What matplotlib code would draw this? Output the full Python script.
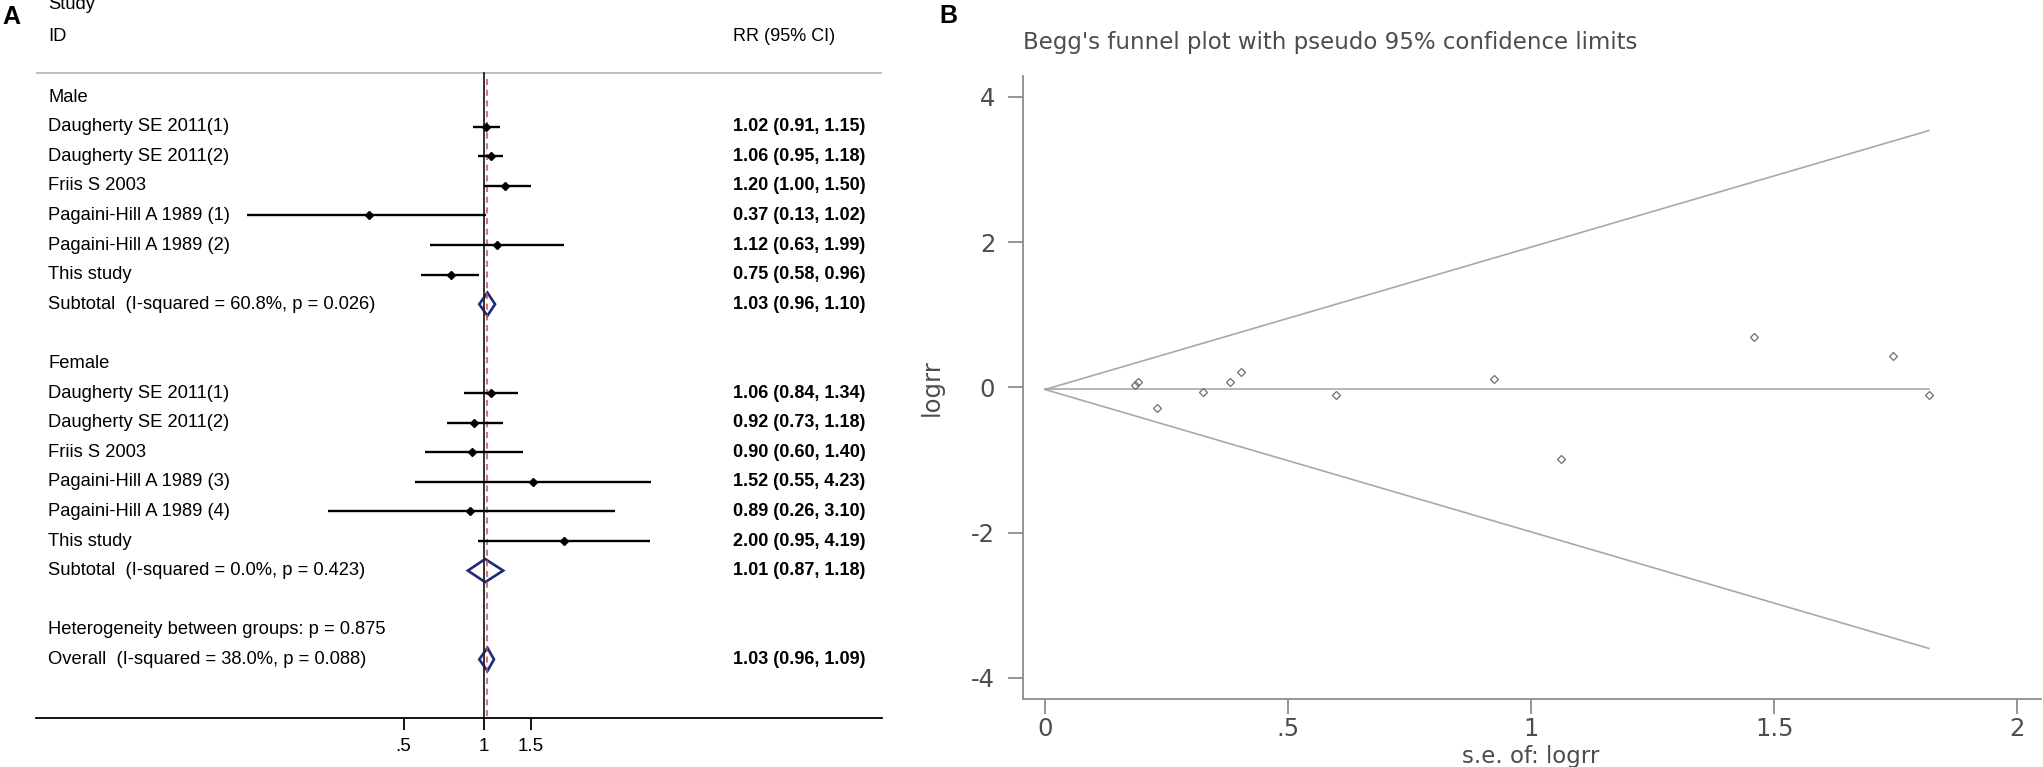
import numpy as np
import matplotlib.pyplot as plt
from matplotlib import font_manager
from matplotlib.patches import Polygon
from matplotlib.ticker import NullLocator
from matplotlib.transforms import blended_transform_factory

# ---- panel A: forest plot data ----
male_names = ['Daugherty SE 2011(1)', 'Daugherty SE 2011(2)', 'Friis S 2003',
              'Pagaini-Hill A 1989 (1)', 'Pagaini-Hill A 1989 (2)', 'This study']
male_rr = [1.02, 1.06, 1.20, 0.37, 1.12, 0.75]
male_lo = [0.91, 0.95, 1.00, 0.13, 0.63, 0.58]
male_hi = [1.15, 1.18, 1.50, 1.02, 1.99, 0.96]
male_sub = (1.03, 0.96, 1.10)
male_sub_label = 'Subtotal  (I-squared = 60.8%, p = 0.026)'

female_names = ['Daugherty SE 2011(1)', 'Daugherty SE 2011(2)', 'Friis S 2003',
                'Pagaini-Hill A 1989 (3)', 'Pagaini-Hill A 1989 (4)', 'This study']
female_rr = [1.06, 0.92, 0.90, 1.52, 0.89, 2.00]
female_lo = [0.84, 0.73, 0.60, 0.55, 0.26, 0.95]
female_hi = [1.34, 1.18, 1.40, 4.23, 3.10, 4.19]
female_sub = (1.01, 0.87, 1.18)
female_sub_label = 'Subtotal  (I-squared = 0.0%, p = 0.423)'

het_label = 'Heterogeneity between groups: p = 0.875'
overall = (1.03, 0.96, 1.09)
overall_label = 'Overall  (I-squared = 38.0%, p = 0.088)'

rr_ticks = [0.5, 1, 1.5]
rr_ticklabels = ['.5', '1', '1.5']

# ---- panel B: Begg's funnel plot data ----
se_vals = [0.185, 0.192, 0.231, 0.324, 0.381, 0.404, 0.598, 0.923, 1.061, 1.459, 1.745, 1.818]
logrr_vals = [0.03, 0.076, -0.282, -0.07, 0.076, 0.205, -0.10, 0.12, -0.99, 0.69, 0.43, -0.11]
pooled_logrr = -0.03
se_ticks = [0, 0.5, 1, 1.5, 2]
se_ticklabels = ['0', '.5', '1', '1.5', '2']
lr_ticks = [-4, -2, 0, 2, 4]
lr_ticklabels = ['-4', '-2', '0', '2', '4']

W, H = 2043, 767
fig = plt.figure(figsize=(W / 100, H / 100), dpi=100)

# fuente angosta para el panel A si existe
names = {f.name for f in font_manager.fontManager.ttflist}
if 'Liberation Sans Narrow' in names:
    lfont, lsize = 'Liberation Sans Narrow', 15.5
else:
    lfont, lsize = 'Liberation Sans', 13.2

# ======== panel A ========
ax = fig.add_axes([36 / W, 1 - 718 / H, (882 - 36) / W, 718 / H])
ax.set_xscale('log')
ax.set_xlim(np.exp((36 - 484) / 116), np.exp((882 - 484) / 116))
ax.set_ylim((718 - 97) / 29.6, (0 - 97) / 29.6)

rows = [('Male', 'head', None)]
for n, r, l, h in zip(male_names, male_rr, male_lo, male_hi):
    rows.append((n, 'study', (r, l, h)))
rows.append((male_sub_label, 'sub', male_sub))
rows.append(('', 'blank', None))
rows.append(('Female', 'head', None))
for n, r, l, h in zip(female_names, female_rr, female_lo, female_hi):
    rows.append((n, 'study', (r, l, h)))
rows.append((female_sub_label, 'sub', female_sub))
rows.append(('', 'blank', None))
rows.append((het_label, 'head', None))
rows.append((overall_label, 'sub', overall))

tr = blended_transform_factory(ax.transAxes, ax.transData)
lab_x = (48 - 36) / (882 - 36)
val_x = (733 - 36) / (882 - 36)
top_r = -0.81
bot_r = (718 - 97) / 29.6

ax.axhline(top_r, color='#b4b4b4', lw=1.2)
ax.plot([1, 1], [top_r, bot_r], color='#222222', lw=1.3)
ax.plot([overall[0], overall[0]], [top_r + 0.2, bot_r], color='#c94a57', lw=1.1, dashes=(4, 3))

ax.text(lab_x, -3.12, 'Study', transform=tr, ha='left', va='center', fontsize=lsize, family=lfont)
ax.text(lab_x, -2.03, 'ID', transform=tr, ha='left', va='center', fontsize=lsize, family=lfont)
ax.text(val_x, -2.03, 'RR (95% CI)', transform=tr, ha='left', va='center', fontsize=13, family='Liberation Sans')

for i, (lab, kind, v) in enumerate(rows):
    if lab:
        ax.text(lab_x, i, lab, transform=tr, ha='left', va='center', fontsize=lsize, family=lfont)
    if v is None:
        continue
    r, l, h = v
    if kind == 'study':
        ax.plot([l, h], [i, i], color='black', lw=1.7, solid_capstyle='butt')
        ax.plot(r, i, marker='D', ms=3.8, color='black')
    else:
        d = Polygon([(l, i), (r, i - 0.39), (h, i), (r, i + 0.39)], closed=True,
                    fill=False, ec='#1f2a7a', lw=1.9)
        ax.add_patch(d)
    ax.text(val_x, i, f'{r:.2f} ({l:.2f}, {h:.2f})', transform=tr, ha='left', va='center',
            fontsize=13, fontweight='bold', family='Liberation Sans')

for s in ['left', 'right', 'top']:
    ax.spines[s].set_visible(False)
ax.spines['bottom'].set_color('black')
ax.spines['bottom'].set_linewidth(1.3)
ax.set_yticks([])
ax.set_xticks(rr_ticks)
ax.set_xticklabels(rr_ticklabels, family='Liberation Sans')
ax.xaxis.set_minor_locator(NullLocator())
ax.tick_params(axis='x', length=8.6, width=1.3, color='black', labelsize=13.5, pad=6)

fig.text(2 / W, 1 - 17 / H, 'A', fontsize=18, fontweight='bold', family='Liberation Sans',
         ha='left', va='center')

# ======== panel B ========
gray_txt = '#4d4d4d'
ax2 = fig.add_axes([1022.7 / W, 1 - 699 / H, (2041 - 1022.7) / W, (699 - 76) / H])
ax2.set_xlim(-0.046, 2.049)
ax2.set_ylim(-4.29, 4.285)

se_max = max(se_vals)
ax2.plot([0, se_max], [pooled_logrr, pooled_logrr + 1.96 * se_max], color='#a8a8a8', lw=1.2)
ax2.plot([0, se_max], [pooled_logrr, pooled_logrr - 1.96 * se_max], color='#a8a8a8', lw=1.2)
ax2.plot([0, se_max], [pooled_logrr, pooled_logrr], color='#a8a8a8', lw=1.2)
ax2.plot(se_vals, logrr_vals, ls='none', marker='D', ms=4.5, mfc='none', mec='#6e6e6e', mew=0.9)

for s in ['right', 'top']:
    ax2.spines[s].set_visible(False)
for s in ['left', 'bottom']:
    ax2.spines[s].set_color('#8c8c8c')
    ax2.spines[s].set_linewidth(1.3)
ax2.set_xticks(se_ticks)
ax2.set_xticklabels(se_ticklabels)
ax2.set_yticks(lr_ticks)
ax2.set_yticklabels(lr_ticklabels)
ax2.tick_params(axis='both', length=10.8, width=1.3, color='#8c8c8c', labelcolor=gray_txt, labelsize=17.5)
ax2.tick_params(axis='x', pad=2)
ax2.tick_params(axis='y', pad=9)

fig.text(939 / W, 1 - 16 / H, 'B', fontsize=18, fontweight='bold', family='Liberation Sans',
         ha='left', va='center')
fig.text(1023 / W, 1 - 42 / H, "Begg's funnel plot with pseudo 95% confidence limits",
         fontsize=16.5, color=gray_txt, ha='left', va='center')
fig.text(932 / W, 1 - 387.5 / H, 'logrr', rotation=90, fontsize=17.5, color=gray_txt,
         ha='center', va='center')
fig.text(1531 / W, 1 - 756 / H, 's.e. of: logrr', fontsize=16.5, color=gray_txt,
         ha='center', va='center')

fig.savefig('out.png', dpi=100)
